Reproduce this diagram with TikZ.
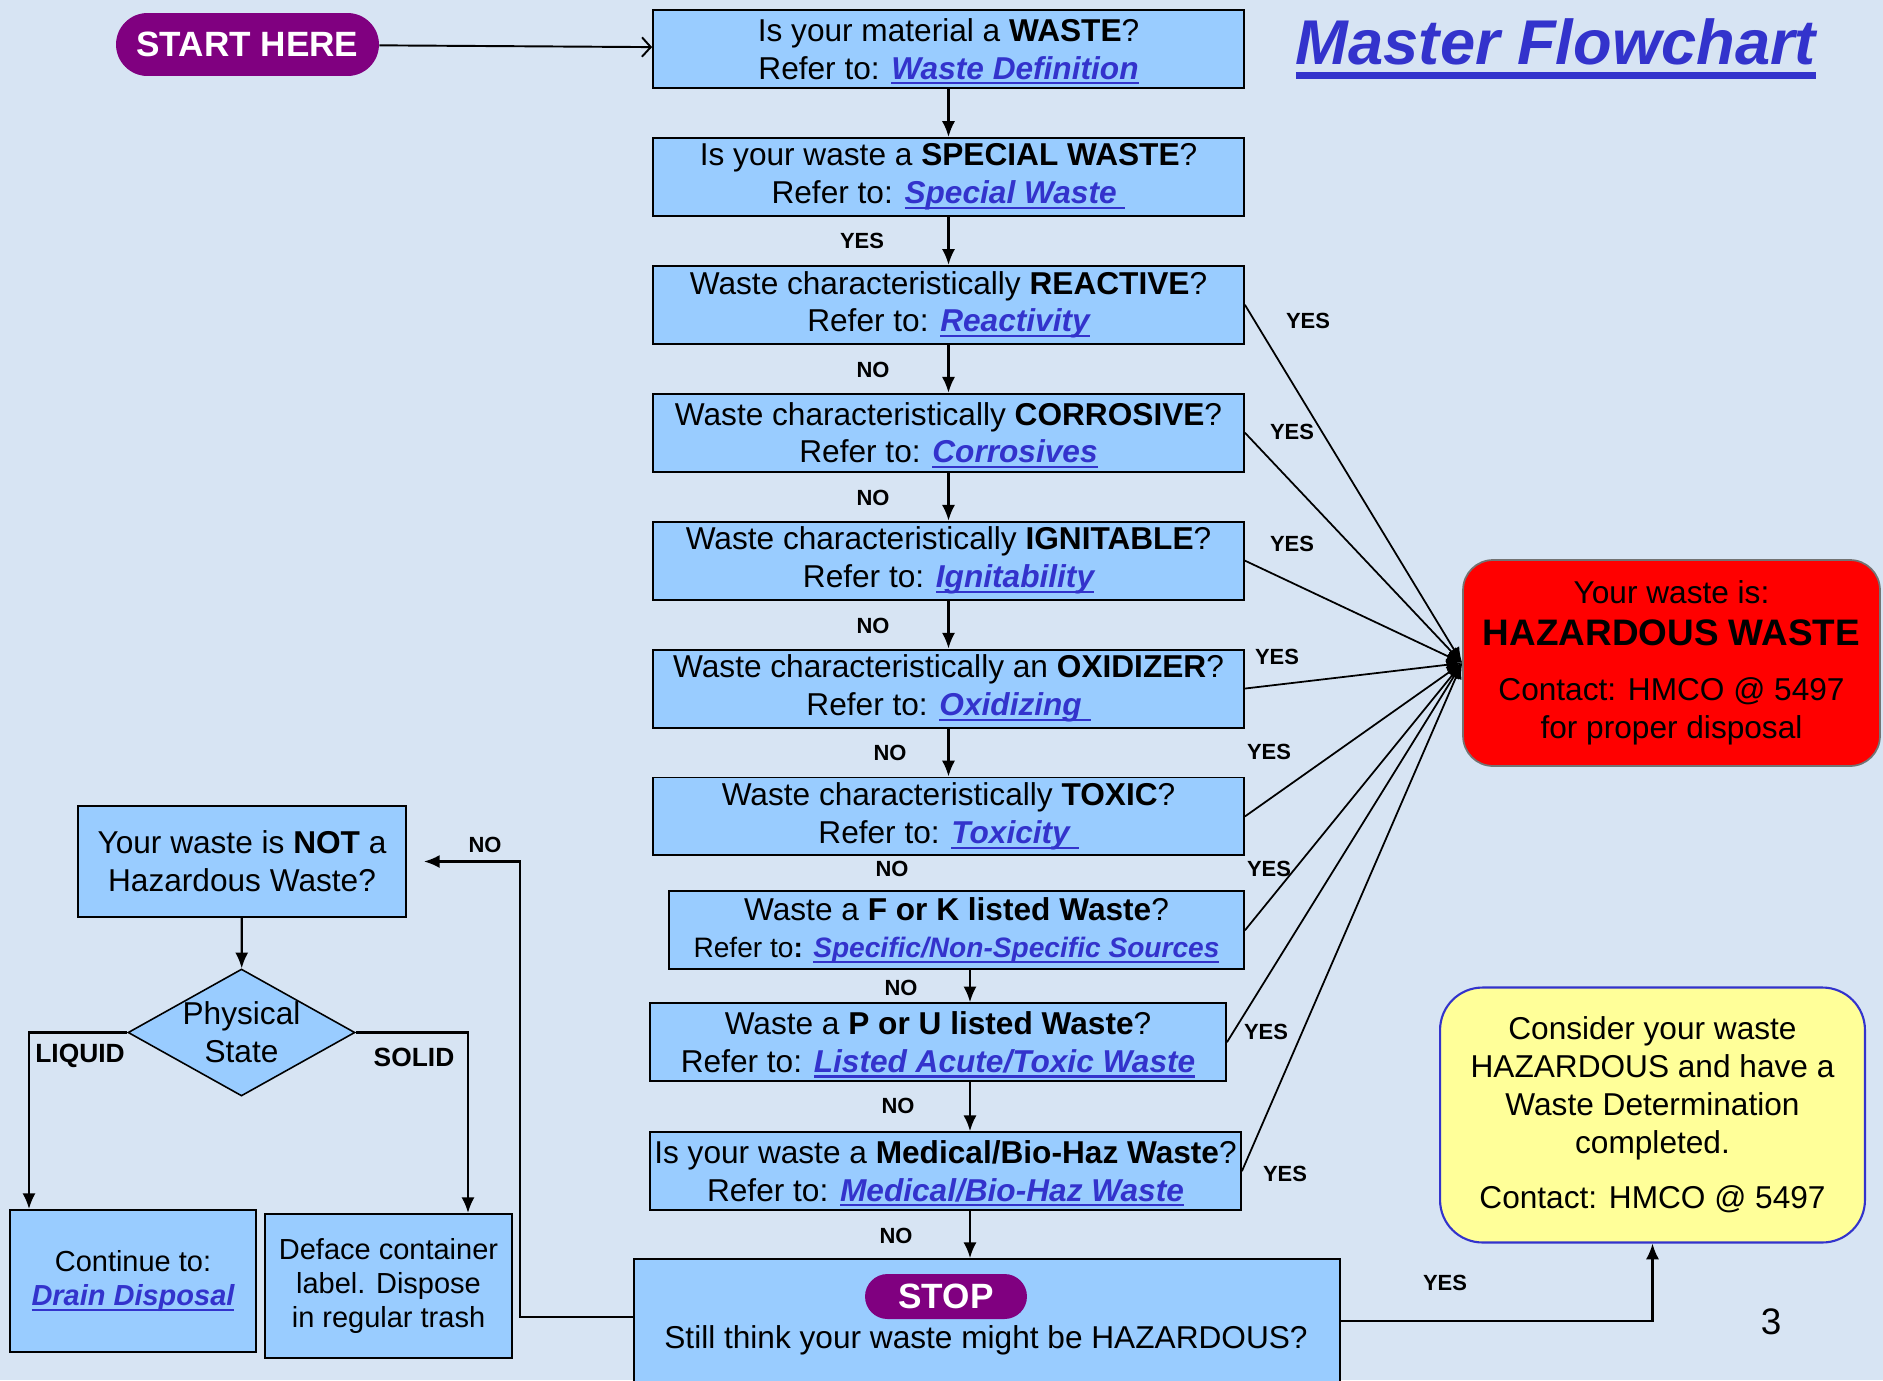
\documentclass[tikz,border=0pt]{standalone}
\usepackage{fontspec}
\setmainfont{Liberation Sans}
\usetikzlibrary{arrows.meta,positioning,shapes.geometric}

\definecolor{bgblue}{RGB}{215,228,243}
\definecolor{qblue}{RGB}{153,204,255}
\definecolor{linkblue}{RGB}{51,51,204}
\definecolor{pillpurple}{RGB}{128,0,128}
\definecolor{hazred}{RGB}{255,0,0}
\definecolor{noteyellow}{RGB}{255,255,153}

\newsavebox{\linkbox}
\newcommand{\ulined}[3]{\sbox{\linkbox}{#3}\rlap{\smash{\rule[-#1]{\wd\linkbox}{#2}}}\usebox{\linkbox}}
\newcommand{\qfont}{\fontsize{18}{21.5}\selectfont}
\newcommand{\smallqfont}{\fontsize{16.5}{19.5}\selectfont}
\newcommand{\reflink}[1]{{\color{linkblue}\bfseries\itshape\ulined{3pt}{1.2pt}{#1}}}

\tikzstyle{qbox} = [rectangle, draw, line width=1.1pt, fill=qblue,
  align=center, inner sep=0pt, minimum width=11.82cm, minimum height=1.56cm, font=\qfont]
\tikzstyle{pill} = [rectangle, fill=pillpurple, text=white, inner sep=0pt,
  font=\fontsize{20}{24}\selectfont\bfseries]
\tikzstyle{tag} = [inner sep=0pt, font=\fontsize{12.5}{14}\selectfont\bfseries]
\tikzstyle{line} = [draw, line width=1.3pt, -{Latex[length=9pt,width=7.5pt]}]
\tikzstyle{yesline} = [draw, line width=1pt, -{Latex[length=9pt,width=7pt]}]

\begin{document}
\begin{tikzpicture}[x=0.02cm, y=-0.02cm]

  \useasboundingbox (0,0) rectangle (1883,1380);
  \fill[bgblue] (0,0) rectangle (1883,1380);
  \clip (0,0) rectangle (1883,1380);

  %%%%%%%%%%%%%%%%%%%%%%%%%%%%%%%%%%%%%%%%%%%%%%%%%%%%%%%%%%%%%%
  %                   START AND TITLE                          %
  %%%%%%%%%%%%%%%%%%%%%%%%%%%%%%%%%%%%%%%%%%%%%%%%%%%%%%%%%%%%%%

  \node [pill, minimum width=5.26cm, minimum height=1.26cm,
    rounded corners=0.63cm] at (247.5,44.5) (start) {START HERE};
  \node [anchor=base, text=linkblue,
    font=\fontsize{36}{40}\selectfont\bfseries\itshape] at (1556,64) (title) {
    \ulined{8.5pt}{4pt}{Master Flowchart}
  };

  %%%%%%%%%%%%%%%%%%%%%%%%%%%%%%%%%%%%%%%%%%%%%%%%%%%%%%%%%%%%%%
  %                   QUESTION COLUMN                          %
  %%%%%%%%%%%%%%%%%%%%%%%%%%%%%%%%%%%%%%%%%%%%%%%%%%%%%%%%%%%%%%

  \node [qbox] at (948.5,49) (waste) {
    Is your material a \textbf{WASTE}?\\ Refer to: \reflink{Waste Definition}
  };
  \node [qbox, below = 0.96cm of waste] (special) {
    Is your waste a \textbf{SPECIAL WASTE}?\\ Refer to: \reflink{Special Waste\ }
  };
  \node [qbox, below = 0.96cm of special] (reactive) {
    Waste characteristically \textbf{REACTIVE}?\\ Refer to: \reflink{Reactivity}
  };
  \node [qbox, below = 0.96cm of reactive] (corrosive) {
    Waste characteristically \textbf{CORROSIVE}?\\ Refer to: \reflink{Corrosives}
  };
  \node [qbox, below = 0.96cm of corrosive] (ignitable) {
    Waste characteristically \textbf{IGNITABLE}?\\ Refer to: \reflink{Ignitability}
  };
  \node [qbox, below = 0.96cm of ignitable] (oxidizer) {
    Waste characteristically an \textbf{OXIDIZER}?\\ Refer to: \reflink{Oxidizing\ }
  };
  \node [qbox, below = 0.96cm of oxidizer] (toxic) {
    Waste characteristically \textbf{TOXIC}?\\ Refer to: \reflink{Toxicity\ }
  };
  \node [qbox, minimum width=11.5cm, below = 0.68cm of toxic, xshift=0.16cm] (fklisted) {
    Waste a \textbf{F or K listed Waste}?\\
    {\fontsize{16}{19}\selectfont Refer to\textbf{:} \reflink{Specific/Non-Specific Sources}}
  };
  \node [qbox, minimum width=11.52cm, below = 0.64cm of fklisted, xshift=-0.37cm] (pulisted) {
    Waste a \textbf{P or U listed Waste}?\\ Refer to: \reflink{Listed Acute/Toxic Waste}
  };
  \node [qbox, below = 0.98cm of pulisted, xshift=0.15cm] (medical) {
    Is your waste a \textbf{Medical/Bio-Haz Waste}?\\ Refer to: \reflink{Medical/Bio-Haz Waste}
  };
  \node [qbox, minimum width=14.12cm, minimum height=2.48cm,
    below = 0.94cm of medical, xshift=0.83cm] (stopbox) {};
  \node [pill, minimum width=3.24cm, minimum height=0.9cm,
    rounded corners=0.45cm] at (946,1296.5) (stop) {STOP};
  \node [font=\qfont] at (986,1340) (stillq) {Still think your waste might be HAZARDOUS?};

  \draw[line width=1.1pt, -{Straight Barb[length=5pt,width=11pt]}] (start) -- (waste);
  \draw[line] (waste) -- (special);
  \draw[line] (special) -- (reactive);
  \draw[line] (reactive) -- (corrosive);
  \draw[line] (corrosive) -- (ignitable);
  \draw[line] (ignitable) -- (oxidizer);
  \draw[line] (oxidizer) -- (toxic);
  \coordinate (colx) at (970,0);
  \draw[line] (fklisted.south -| colx) -- (pulisted.north -| colx);
  \draw[line] (pulisted.south -| colx) -- (medical.north -| colx);
  \draw[line] (medical.south -| colx) -- (stopbox.north -| colx);

  \node [tag] at (862,241) (yes-special) {YES};
  \node [tag] at (873,370) (no-reactive) {NO};
  \node [tag] at (873,498) (no-corrosive) {NO};
  \node [tag] at (873,626) (no-ignitable) {NO};
  \node [tag] at (890,753) (no-oxidizer) {NO};
  \node [tag] at (892,869) (no-toxic) {NO};
  \node [tag] at (901,988) (no-fklisted) {NO};
  \node [tag] at (898,1106) (no-pulisted) {NO};
  \node [tag] at (896,1236) (no-medical) {NO};

  %%%%%%%%%%%%%%%%%%%%%%%%%%%%%%%%%%%%%%%%%%%%%%%%%%%%%%%%%%%%%%
  %                   HAZARDOUS OUTCOMES                       %
  %%%%%%%%%%%%%%%%%%%%%%%%%%%%%%%%%%%%%%%%%%%%%%%%%%%%%%%%%%%%%%

  \node [rectangle, rounded corners=0.6cm, draw=black!55, line width=1pt,
    fill=hazred, minimum width=8.34cm, minimum height=4.12cm,
    align=center, font=\qfont] at (1671.5,663) (hazard) {
    Your waste is:\\[2pt]
    {\fontsize{21}{24}\selectfont\bfseries HAZARDOUS WASTE}\\[10pt]
    Contact: HMCO @ 5497\\ for proper disposal
  };
  \node [rectangle, rounded corners=0.85cm, draw=linkblue, line width=1.2pt,
    fill=noteyellow, minimum width=8.5cm, minimum height=5.1cm,
    align=center, font=\qfont] at (1652.5,1115) (consider) {
    Consider your waste\\ HAZARDOUS and have a\\ Waste Determination\\ completed.\\[10pt]
    Contact: HMCO @ 5497
  };

  \draw[yesline] (reactive.east) -- (hazard.west);
  \draw[yesline] (corrosive.east) -- (hazard.west);
  \draw[yesline] (ignitable.east) -- (hazard.west);
  \draw[yesline] (oxidizer.east) -- (hazard.west);
  \draw[yesline] (toxic.east) -- (hazard.west);
  \draw[yesline] (fklisted.east) -- (hazard.west);
  \draw[yesline] (pulisted.east) -- (hazard.west);
  \draw[yesline] (medical.east) -- (hazard.west);
  \draw[line] (stopbox.east) -| (consider.south);

  \node [tag] at (1308,321) (yes-reactive) {YES};
  \node [tag] at (1292,432) (yes-corrosive) {YES};
  \node [tag] at (1292,544) (yes-ignitable) {YES};
  \node [tag] at (1277,657) (yes-oxidizer) {YES};
  \node [tag] at (1269,752) (yes-toxic) {YES};
  \node [tag] at (1269,869) (yes-fklisted) {YES};
  \node [tag] at (1266,1032) (yes-pulisted) {YES};
  \node [tag] at (1285,1174) (yes-medical) {YES};
  \node [tag] at (1445,1283) (yes-stop) {YES};
  \node [font=\fontsize{21}{24}\selectfont] at (1771,1322) (pagenum) {3};

  %%%%%%%%%%%%%%%%%%%%%%%%%%%%%%%%%%%%%%%%%%%%%%%%%%%%%%%%%%%%%%
  %                   NOT HAZARDOUS BRANCH                     %
  %%%%%%%%%%%%%%%%%%%%%%%%%%%%%%%%%%%%%%%%%%%%%%%%%%%%%%%%%%%%%%

  \node [qbox, minimum width=6.56cm, minimum height=2.22cm] at (242,861.5) (notwaste) {
    Your waste is \textbf{NOT} a\\ Hazardous Waste?
  };
  \node [diamond, draw, line width=0.9pt, fill=qblue, inner sep=0pt,
    minimum width=4.54cm, minimum height=2.54cm] at (241.5,1032.5) (state) {};
  \node [align=center, font=\qfont] at (state) (statetext) {Physical\\ State};
  \node [qbox, minimum width=4.92cm, minimum height=2.84cm, font=\smallqfont] at (133,1281) (drain) {
    Continue to:\\ \reflink{Drain Disposal}
  };
  \node [qbox, minimum width=4.94cm, minimum height=2.88cm, font=\smallqfont] at (388.5,1286) (deface) {
    Deface container\\ label. Dispose\\ in regular trash
  };

  \coordinate (nobend) at (520,0);
  \coordinate (liquidx) at (29,0);
  \coordinate (solidx) at (468,0);
  \draw[line, shorten >=0.34cm] ([yshift=0.08cm]stopbox.west) -| (nobend |- notwaste.east) -- (notwaste.east);
  \draw[line] (notwaste) -- (state);
  \draw[line] (state.west) -| (liquidx |- drain.north);
  \draw[line] (state.east) -| (solidx |- deface.north);

  \node [tag] at (485,845) (no-stop) {NO};
  \node [tag, font=\fontsize{15}{17}\selectfont\bfseries] at (80,1056) (liquid) {LIQUID};
  \node [tag, font=\fontsize{15}{17}\selectfont\bfseries] at (414,1057) (solid) {SOLID};

\end{tikzpicture}
\end{document}
